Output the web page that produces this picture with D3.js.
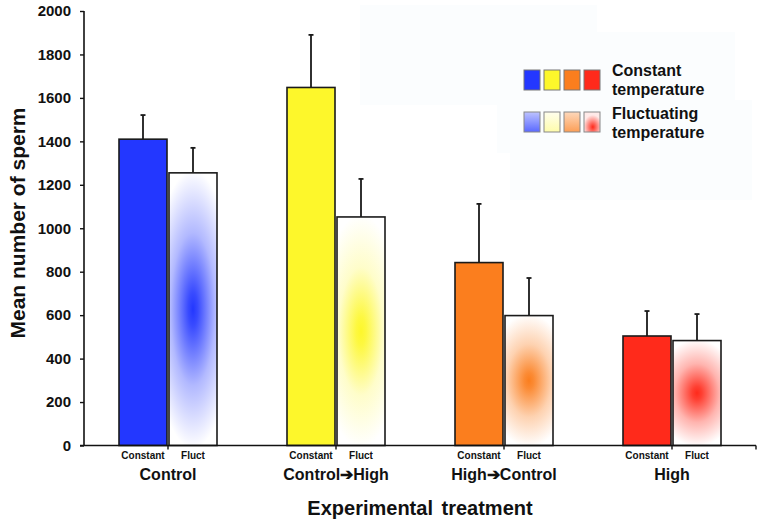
<!DOCTYPE html>
<html>
<head>
<meta charset="utf-8">
<script src="https://cdn.jsdelivr.net/npm/d3@7"></script>
<style>
  body { margin: 0; background: #fff; }
  text { font-family: "Liberation Sans", Arial, sans-serif; font-weight: bold; fill: #111; }
</style>
</head>
<body>
<script>
// chart data
const categories = ["Control", "Control\u2794High", "High\u2794Control", "High"];
const treatments = ["Constant", "Fluct"];
const constantMean = [1410, 1648, 842, 504];
const constantErr = [111, 242, 270, 115];
const fluctMean = [1255, 1052, 598, 483];
const fluctErr = [115, 175, 173, 122];
const yTicks = [0, 200, 400, 600, 800, 1000, 1200, 1400, 1600, 1800, 2000];
const colours = ["#2337ff", "#fdf72b", "#fb7e1e", "#ff2a1b"];

var margin = { top: 11, right: 9, bottom: 75.5, left: 84 },
    width = 765 - margin.left - margin.right,
    height = 521 - margin.top - margin.bottom;

var root = d3.select("body")
    .append("svg")
    .attr("width", 765)
    .attr("height", 521);

// faint background patches behind the legend
[[360, 5, 237, 100], [497, 32, 238, 121], [510, 100, 242, 100]].forEach(function (r) {
    root.append("rect")
        .attr("x", r[0]).attr("y", r[1])
        .attr("width", r[2]).attr("height", r[3])
        .attr("fill", "#fbfdfe");
});

var defs = root.append("defs");

// radial gradients for the fluctuating bars
colours.forEach(function (c, i) {
    var g = defs.append("radialGradient")
        .attr("id", "fl" + i)
        .attr("cx", 0.5).attr("cy", 0.5).attr("r", 0.5)
        .attr("gradientTransform", "translate(0.5,0.5) scale(1.7,1.02) translate(-0.5,-0.5)");
    g.append("stop").attr("offset", "0").attr("stop-color", c);
    g.append("stop").attr("offset", "0.12").attr("stop-color", c).attr("stop-opacity", 0.9);
    g.append("stop").attr("offset", "0.55").attr("stop-color", c).attr("stop-opacity", i == 1 ? 0.25 : 0.35);
    g.append("stop").attr("offset", "1").attr("stop-color", c).attr("stop-opacity", 0);

    // small legend swatch gradient
    var s = defs.append(i == 3 ? "radialGradient" : "linearGradient")
        .attr("id", "lg" + i);
    if (i == 3) {
        s.attr("cx", 0.55).attr("cy", 0.75).attr("r", 0.6);
        s.append("stop").attr("offset", "0").attr("stop-color", c).attr("stop-opacity", 1);
        s.append("stop").attr("offset", "1").attr("stop-color", c).attr("stop-opacity", 0.1);
    } else {
        s.attr("x1", 0).attr("y1", 0).attr("x2", 0).attr("y2", 1);
        s.append("stop").attr("offset", "0").attr("stop-color", c).attr("stop-opacity", i == 1 ? 0.08 : 0.3);
        s.append("stop").attr("offset", "1").attr("stop-color", c).attr("stop-opacity", i == 1 ? 0.4 : 0.75);
    }
});

var svg = root.append("g")
    .attr("transform", `translate(${margin.left},${margin.top})`);

var x = d3.scaleBand()
    .domain(categories)
    .range([0, width])
    .paddingInner(0);

var xSub = d3.scaleBand()
    .domain(treatments)
    .range([-49, 49])
    .paddingInner(0.04);

var y = d3.scaleLinear()
    .domain([0, 2000])
    .range([height, 0]);

// y axis
var yAxis = svg.append("g")
    .call(d3.axisLeft(y).tickValues(yTicks).tickSize(4).tickPadding(9).tickFormat(d3.format("d")));
yAxis.select(".domain").attr("d", `M0,${height}V0`).attr("stroke", "#111").attr("stroke-width", 1.6);
yAxis.selectAll(".tick line").attr("stroke", "#111").attr("stroke-width", 1.4);
yAxis.selectAll("text")
    .style("font-size", "15px")
    .style("font-family", "'Liberation Sans', Arial, sans-serif")
    .style("font-weight", "bold")
    .attr("fill", "#111");

// bars
categories.forEach(function (cat, i) {
    var cx = x(cat) + x.bandwidth() / 2;
    var rows = [
        { t: "Constant", v: constantMean[i], e: constantErr[i], fill: colours[i] },
        { t: "Fluct", v: fluctMean[i], e: fluctErr[i], fill: `url(#fl${i})` }
    ];
    rows.forEach(function (r) {
        var bx = cx + xSub(r.t);
        var mid = bx + xSub.bandwidth() / 2;
        // error bar (upper only)
        svg.append("line")
            .attr("x1", mid).attr("x2", mid)
            .attr("y1", y(r.v)).attr("y2", y(r.v + r.e))
            .attr("stroke", "#1a1a1a").attr("stroke-width", 1.8);
        svg.append("line")
            .attr("x1", mid - 2.5).attr("x2", mid + 2.5)
            .attr("y1", y(r.v + r.e)).attr("y2", y(r.v + r.e))
            .attr("stroke", "#1a1a1a").attr("stroke-width", 1.8);
        svg.append("rect")
            .attr("x", bx)
            .attr("y", y(r.v))
            .attr("width", xSub.bandwidth())
            .attr("height", height - y(r.v))
            .attr("fill", "#fff");
        svg.append("rect")
            .attr("x", bx)
            .attr("y", y(r.v))
            .attr("width", xSub.bandwidth())
            .attr("height", height - y(r.v))
            .attr("fill", r.fill)
            .attr("stroke", "#1a1a1a")
            .attr("stroke-width", 1.6);
        // small treatment label
        svg.append("text")
            .attr("x", mid)
            .attr("y", height + 13)
            .attr("text-anchor", "middle")
            .style("font-size", "10px")
            .text(r.t);
    });
    // group label
    svg.append("text")
        .attr("x", cx)
        .attr("y", height + 34)
        .attr("text-anchor", "middle")
        .style("font-size", "16px")
        .text(cat);
});

// x axis line with ticks between the bars
var xAxis = svg.append("g")
    .attr("transform", `translate(0,${height})`);
xAxis.append("line")
    .attr("x1", -4).attr("x2", width)
    .attr("stroke", "#111").attr("stroke-width", 1.6);
categories.forEach(function (cat) {
    var cx = x(cat) + x.bandwidth() / 2;
    xAxis.append("line")
        .attr("x1", cx).attr("x2", cx)
        .attr("y1", 0).attr("y2", 4)
        .attr("stroke", "#111").attr("stroke-width", 1.4);
});
xAxis.append("line")
    .attr("x1", width).attr("x2", width)
    .attr("y1", 0).attr("y2", 4)
    .attr("stroke", "#111").attr("stroke-width", 1.4);

// axis titles
svg.append("text")
    .attr("x", width / 2)
    .attr("y", height + 69)
    .attr("text-anchor", "middle")
    .style("font-size", "20px")
    .style("word-spacing", "3px")
    .text("Experimental treatment");

svg.append("text")
    .attr("x", -212)
    .attr("y", -margin.left + 25)
    .attr("transform", "rotate(-90)")
    .attr("text-anchor", "middle")
    .style("font-size", "21px")
    .text("Mean number of sperm");

// legend
var legend = root.append("g");
colours.forEach(function (c, i) {
    legend.append("rect")
        .attr("x", 524 + i * 20).attr("y", 70)
        .attr("width", 16).attr("height", 20)
        .attr("fill", c)
        .attr("stroke", "#777").attr("stroke-width", 1);
    legend.append("rect")
        .attr("x", 524 + i * 20).attr("y", 112)
        .attr("width", 16).attr("height", 20)
        .attr("fill", "#fff");
    legend.append("rect")
        .attr("x", 524 + i * 20).attr("y", 112)
        .attr("width", 16).attr("height", 20)
        .attr("fill", `url(#lg${i})`)
        .attr("stroke", "#888").attr("stroke-width", 1);
});
[["Constant", 76], ["temperature", 94.5], ["Fluctuating", 119], ["temperature", 137.5]].forEach(function (t) {
    legend.append("text")
        .attr("x", 612)
        .attr("y", t[1])
        .style("font-size", "16px")
        .text(t[0]);
});
</script>
</body>
</html>
